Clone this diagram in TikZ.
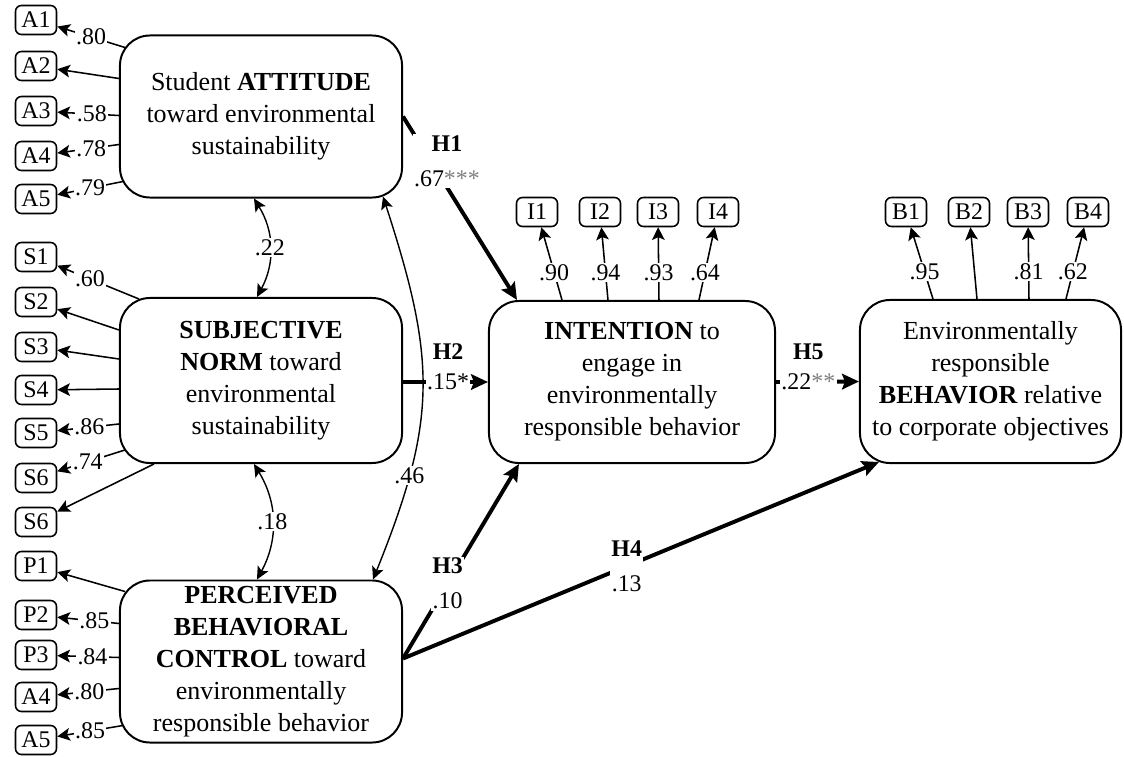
\documentclass[tikz,border=0pt]{standalone}
\usepackage{fontspec}
\setmainfont{Liberation Serif}
\usetikzlibrary{arrows.meta, calc}

\tikzset{
  latent/.style={draw, line width=1.4pt, rounded corners=0.75cm, align=center, inner sep=0pt,
    minimum width=7.05cm, minimum height=4.05cm, font=\fontsize{18.5}{22.8}\selectfont},
  obs/.style={draw, line width=1.1pt, rounded corners=0.15cm, minimum width=1.025cm,
    minimum height=0.725cm, inner sep=0pt, font=\fontsize{17}{19}\selectfont},
  loadline/.style={line width=1.1pt, -{Stealth[length=9pt,width=9pt,inset=2pt]}},
  hyparrow/.style={line width=2.8pt, -{Stealth[length=12pt,width=11pt,inset=2pt]}},
  corr/.style={line width=1pt, {Stealth[length=9pt,width=8.5pt,inset=2pt]}-{Stealth[length=9pt,width=8.5pt,inset=2pt]}},
  coef/.style={fill=white, inner sep=1pt, font=\fontsize{17}{19}\selectfont},
  hyp/.style={fill=white, inner sep=1pt, align=center, font=\fontsize{17}{25}\selectfont},
}

\begin{document}
\begin{tikzpicture}[x=0.025cm, y=-0.025cm]
  \useasboundingbox (0,0) rectangle (1124,756);
  % 잠재변수
  \node[latent] (att) at (261,116.5) {Student \textbf{ATTITUDE}\\toward environmental\\sustainability};
  \node[latent, minimum height=4.125cm] (norm) at (261,380.5) {\textbf{SUBJECTIVE}\\\textbf{NORM} toward\\environmental\\sustainability};
  \node[latent] (pbc) at (261,661.5) {\textbf{PERCEIVED}\\\textbf{BEHAVIORAL}\\\textbf{CONTROL} toward\\environmentally\\responsible behavior};
  \node[latent, minimum width=7.15cm] (intn) at (632,382) {\textbf{INTENTION} to\\engage in\\environmentally\\responsible behavior};
  \node[latent, minimum width=6.525cm, minimum height=4.075cm] (beh) at (990.5,381.5) {Environmentally\\responsible\\\textbf{BEHAVIOR} relative\\to corporate objectives};

  % 관측변수 (태도)
  \node[obs] (a1) at (36,20) {A1};
  \node[obs] (a2) at (36,66) {A2};
  \node[obs] (a3) at (36,111) {A3};
  \node[obs] (a4) at (36,156) {A4};
  \node[obs] (a5) at (36,199) {A5};
  % 관측변수 (주관적 규범)
  \node[obs] (s1) at (36,257) {S1};
  \node[obs] (s2) at (36,302) {S2};
  \node[obs] (s3) at (36,347) {S3};
  \node[obs] (s4) at (36,390) {S4};
  \node[obs] (s5) at (36,433) {S5};
  \node[obs] (s6) at (36,478) {S6};
  \node[obs] (s7) at (36,522) {S6};
  % 관측변수 (행동통제)
  \node[obs] (p1) at (36,566) {P1};
  \node[obs] (p2) at (36,615) {P2};
  \node[obs] (p3) at (36,655) {P3};
  \node[obs] (p4) at (36,697) {A4};
  \node[obs] (p5) at (36,740) {A5};
  % 관측변수 (의도, 행동)
  \node[obs] (i1) at (537,212) {I1};
  \node[obs] (i2) at (600,212) {I2};
  \node[obs] (i3) at (658,212) {I3};
  \node[obs] (i4) at (718,212) {I4};
  \node[obs] (b1) at (906,212) {B1};
  \node[obs] (b2) at (969,212) {B2};
  \node[obs] (b3) at (1028,212) {B3};
  \node[obs] (b4) at (1088,212) {B4};

  % 적재치
  \draw[loadline] ($(att.north west)+(6,13)$) -- node[coef, pos=0.5] {.80} (a1);
  \draw[loadline] ($(att.north west)+(0,44)$) -- (a2);
  \draw[loadline] ($(att.north west)+(0,81)$) -- node[coef, pos=0.44] {.58} (a3);
  \draw[loadline] ($(att.north west)+(0,110)$) -- node[coef, pos=0.45] {.78} (a4);
  \draw[loadline] ($(att.north west)+(4,147)$) -- node[coef, pos=0.5] {.79} (a5);
  \draw[loadline] ($(norm.north west)+(20,2)$) -- node[coef, pos=0.6] {.60} (s1);
  \draw[loadline] ($(norm.north west)+(0,33)$) -- (s2);
  \draw[loadline] ($(norm.north west)+(0,62)$) -- (s3);
  \draw[loadline] ($(norm.north west)+(0,92)$) -- (s4);
  \draw[loadline] ($(norm.north west)+(0,127)$) -- node[coef, pos=0.48] {.86} (s5);
  \draw[loadline] ($(norm.north west)+(6,153)$) -- node[coef, pos=0.55] {.74} (s6);
  \draw[loadline] ($(norm.south west)+(35,0)$) -- (s7);
  \draw[loadline] ($(pbc.north west)+(6,12)$) -- (p1);
  \draw[loadline] ($(pbc.north west)+(0,44)$) -- node[coef, pos=0.4] {.85} (p2);
  \draw[loadline] ($(pbc.north west)+(0,78)$) -- node[coef, pos=0.43] {.84} (p3);
  \draw[loadline] ($(pbc.north west)+(0,109)$) -- node[coef, pos=0.48] {.80} (p4);
  \draw[loadline] ($(pbc.north west)+(4,146)$) -- node[coef, pos=0.5] {.85} (p5);
  \draw[loadline] ($(intn.north west)+(74,0)$) -- node[coef, pos=0.38] {.90} (i1);
  \draw[loadline] ($(intn.north west)+(120,0)$) -- node[coef, pos=0.38] {.94} (i2);
  \draw[loadline] ($(intn.north west)+(171,0)$) -- node[coef, pos=0.38] {.93} (i3);
  \draw[loadline] ($(intn.north west)+(211,0)$) -- node[coef, pos=0.38] {.64} (i4);
  \draw[loadline] ($(beh.north west)+(74,0)$) -- node[coef, pos=0.38] {.95} (b1);
  \draw[loadline] ($(beh.north west)+(118,0)$) -- (b2);
  \draw[loadline] ($(beh.north west)+(170,0)$) -- node[coef, pos=0.38] {.81} (b3);
  \draw[loadline] ($(beh.north west)+(207,0)$) -- node[coef, pos=0.38] {.62} (b4);

  % 상관
  \draw[corr] ($(att.south west)+(135,0)$) to[bend left=30] node[coef] {.22} ($(norm.north west)+(138,0)$);
  \draw[corr] ($(norm.south west)+(135,0)$) to[bend left=30] node[coef] {.18} ($(pbc.north west)+(138,0)$);
  \draw[corr] ($(att.south east)+(-20,-2)$) to[out=-72, in=68, looseness=1.15] node[coef, pos=0.75] {.46} ($(pbc.north east)+(-30,0)$);

  % 가설 경로
  \draw[hyparrow] ($(att.north east)+(0,82)$) -- node[hyp, pos=0.245, xshift=0.4cm] {\textbf{H1}\\.67\textcolor{gray}{***}} ($(intn.north west)+(29,0)$);
  \draw[hyparrow] (norm.east |- intn.west) -- node[coef, pos=0.53] {.15*} node[hyp, pos=0.53, yshift=0.75cm] {\textbf{H2}} (intn.west);
  \draw[hyparrow] ($(pbc.north east)+(0,79)$) -- node[hyp, pos=0.385] {\textbf{H3}\\.10} ($(intn.south west)+(31,0)$);
  \draw[hyparrow] ($(pbc.north east)+(0,79)$) -- node[hyp, pos=0.47] {\textbf{H4}\\.13} ($(beh.south west)+(20,-2)$);
  \draw[hyparrow] (intn.east) -- node[coef, pos=0.39] {.22\textcolor{gray}{**}} node[hyp, pos=0.39, yshift=0.75cm] {\textbf{H5}} (beh.west);
\end{tikzpicture}
\end{document}
